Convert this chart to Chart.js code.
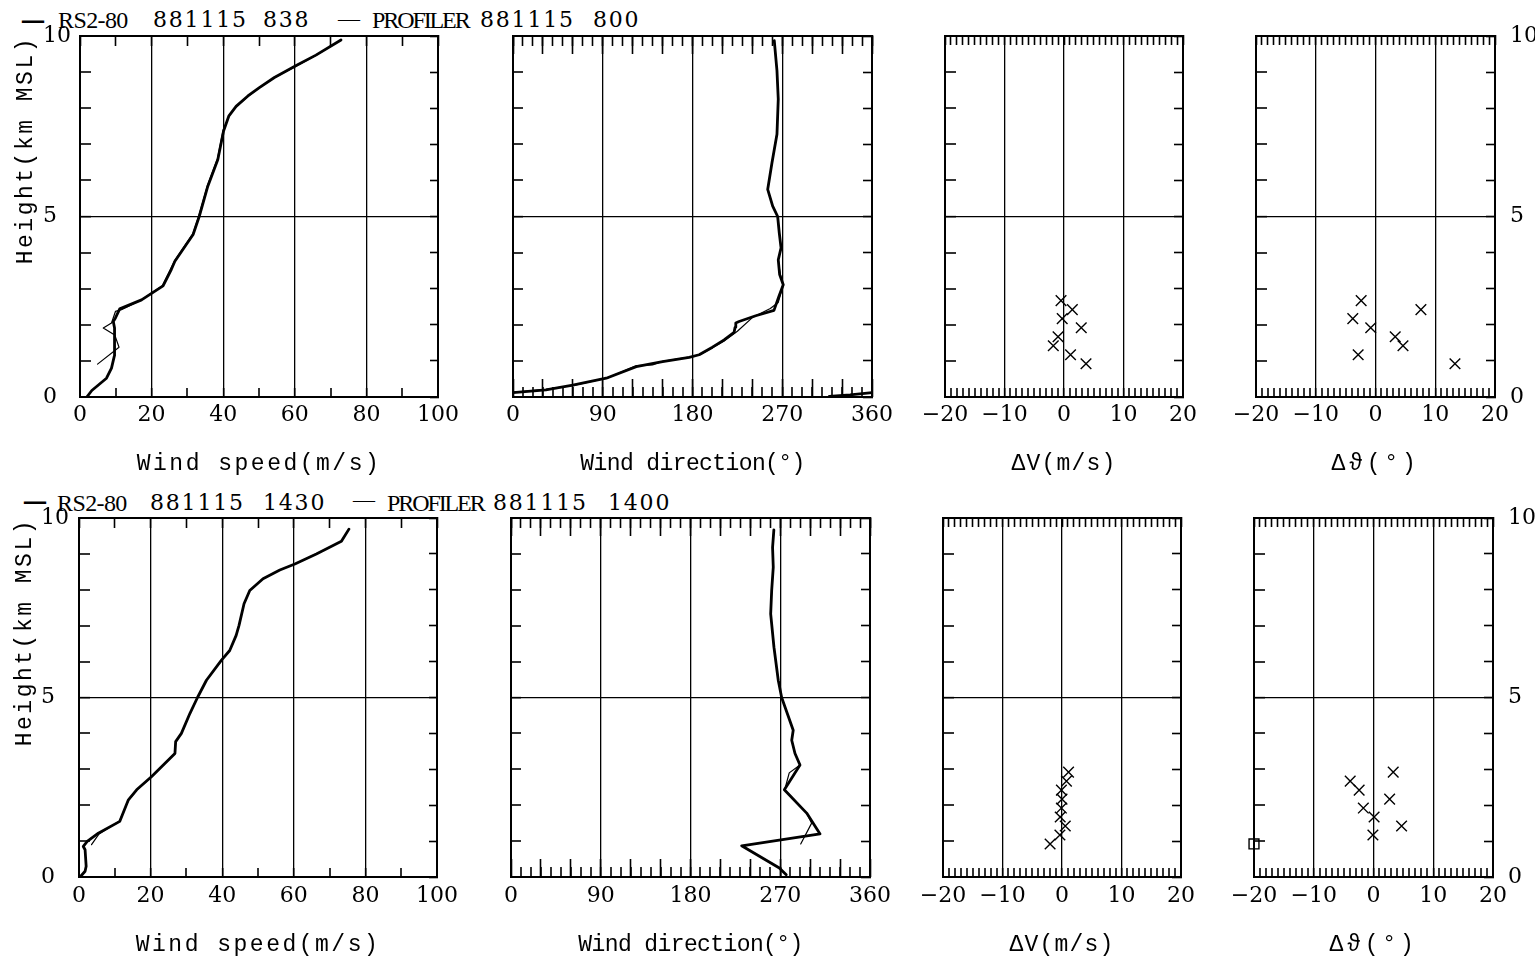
<!DOCTYPE html>
<html>
<head>
<meta charset="utf-8">
<title>Wind profiles RS2-80 vs PROFILER 881115</title>
<script src="https://cdn.jsdelivr.net/npm/chart.js@4.4.1/dist/chart.umd.min.js"></script>
<style>
  html, body { margin:0; padding:0; background:#fff; }
  body { width:1536px; height:959px; position:relative; overflow:hidden; }
  canvas { position:absolute; }
  .h { position:absolute; white-space:pre; color:#000; line-height:1; }
  .num { font-family:'DejaVu Serif', serif; font-size:22px; letter-spacing:1.8px; }
  .word { font-family:'Liberation Serif', serif; font-size:24px; }
  .dash { font-family:'Liberation Serif', serif; font-size:22px; }
  .thick { font-weight:bold; transform:scaleY(1.6); }
</style>
</head>
<body>
<div class="h dash thick" style="left:22px;top:7.5px">—</div>
<div class="h word" style="left:58px;top:8px;letter-spacing:-0.6px">RS2-80</div>
<div class="h num" style="left:153px;top:9.4px">881115</div>
<div class="h num" style="left:263px;top:9.4px">838</div>
<div class="h dash" style="left:338px;top:7.5px">—</div>
<div class="h word" style="left:372px;top:8px;letter-spacing:-2.1px">PROFILER</div>
<div class="h num" style="left:480px;top:9.4px">881115</div>
<div class="h num" style="left:593px;top:9.4px">800</div>

<div class="h dash thick" style="left:24px;top:489px">—</div>
<div class="h word" style="left:57px;top:490.5px;letter-spacing:-0.6px">RS2-80</div>
<div class="h num" style="left:150px;top:492px">881115</div>
<div class="h num" style="left:263px;top:492px">1430</div>
<div class="h dash" style="left:353px;top:489px">—</div>
<div class="h word" style="left:387px;top:490.5px;letter-spacing:-2.1px">PROFILER</div>
<div class="h num" style="left:493px;top:492px">881115</div>
<div class="h num" style="left:608px;top:492px">1400</div>

<script>
// ---------- tick labels / axis titles ----------
const speedTicks = [0, 20, 40, 60, 80, 100];
const dirTicks = [0, 90, 180, 270, 360];
const diffTicks = [-20, -10, 0, 10, 20];
const heightTicks = [0, 5, 10];
const speedGrid = [20, 40, 60, 80];
const dirGrid = [90, 180, 270];
const diffGrid = [-10, 0, 10];
const heightGrid = [5];
const titleSpeed = 'Wind speed(m/s)';
const titleDir = 'Wind direction(°)';
const titleDV = 'ΔV(m/s)';
const titleDTh = 'Δϑ(°)';
const titleHeight = 'Height(km MSL)';

// ---------- 881115 838 (RS2-80) / 800 (PROFILER) ----------
const topSpeedRsV = [1.9, 3.3, 7.4, 8.8, 9.6, 9.7, 9.6, 9.3, 9.9, 11.1, 17.2, 23.2, 25.5, 26.5, 31.6, 33.3, 35.7, 38.5, 40.1, 41.6, 43.6, 46.9, 50.1, 54.3, 60.4, 65.9, 72.9];
const topSpeedRsH = [0.0, 0.18, 0.52, 0.80, 1.14, 1.49, 1.91, 2.09, 2.19, 2.44, 2.69, 3.08, 3.53, 3.76, 4.50, 5.00, 5.84, 6.58, 7.37, 7.79, 8.05, 8.34, 8.57, 8.85, 9.18, 9.47, 9.89];
const topSpeedPrV = [4.9, 10.9, 9.7, 6.5, 8.8, 9.9, 11.6, 17.0, 23.0, 26.4, 31.5, 33.2, 35.6, 38.4, 40.0, 41.7, 43.7, 47.0, 50.2, 54.4, 60.5, 66.0, 72.8];
const topSpeedPrH = [0.91, 1.38, 1.72, 1.91, 2.05, 2.37, 2.42, 2.68, 3.08, 3.77, 4.52, 5.02, 5.86, 6.60, 7.40, 7.80, 8.05, 8.33, 8.57, 8.85, 9.17, 9.47, 9.88];

const topDirRsWrapV = [317, 338, 360];
const topDirRsWrapH = [0.02, 0.06, 0.12];
const topDirRsV = [0, 33, 60, 93.5, 123.6, 150, 176.7, 186.7, 200, 211.7, 221.7, 222.7, 223.4, 226.7, 243.4, 261.7, 266.7, 271, 267.4, 266, 268.8, 267, 265.4, 260.4, 255.4, 259.7, 264.7, 266, 264.7, 262];
const topDirRsH = [0.12, 0.20, 0.33, 0.52, 0.84, 0.98, 1.10, 1.17, 1.38, 1.58, 1.79, 1.93, 2.05, 2.09, 2.25, 2.40, 2.79, 3.11, 3.39, 3.80, 4.13, 4.55, 5.00, 5.29, 5.75, 6.49, 7.28, 8.25, 9.04, 9.87];
const topDirPrV = [0, 33, 62, 95, 124, 140, 150, 178, 188, 201, 212, 225, 240, 258, 266, 271, 268, 266, 269, 267, 265.4, 260.4, 255.5, 259.7, 264.7, 266, 264.7, 262];
const topDirPrH = [0.13, 0.21, 0.33, 0.53, 0.87, 0.89, 0.99, 1.11, 1.18, 1.38, 1.56, 1.82, 2.20, 2.45, 2.62, 3.10, 3.40, 3.80, 4.13, 4.55, 5.00, 5.30, 5.75, 6.50, 7.30, 8.25, 9.04, 9.87];

const topDiffH = [2.67, 2.42, 2.17, 1.92, 1.67, 1.42, 1.17, 0.92];
const topDvV = [-0.5, 1.4, -0.3, 2.9, -1.0, -1.8, 1.1, 3.7];
const topDthV = [-2.4, 7.6, -3.8, -0.8, 3.3, 4.6, -2.9, 13.3];

// ---------- 881115 1430 (RS2-80) / 1400 (PROFILER) ----------
const botSpeedRsV = [0.3, 1.7, 2.0, 1.7, 1.2, 2.3, 5.4, 11.4, 13.8, 16.1, 20.3, 26.8, 27.0, 28.6, 31.0, 33.1, 35.6, 39.8, 42.1, 43.9, 44.7, 46.1, 47.7, 51.4, 56.1, 60.3, 66.3, 73.3, 75.4];
const botSpeedRsH = [0.0, 0.16, 0.30, 0.76, 0.85, 0.99, 1.22, 1.55, 2.15, 2.43, 2.80, 3.44, 3.77, 4.00, 4.56, 5.00, 5.48, 6.04, 6.31, 6.73, 7.01, 7.61, 7.98, 8.31, 8.55, 8.72, 9.00, 9.35, 9.69];
const botSpeedPrV = [3.5, 5.6, 11.3, 13.9, 16.2, 20.4, 26.7, 27.0, 28.6, 31.0, 33.1, 35.6, 39.8, 42.1, 43.9, 44.7, 46.1, 47.7, 51.4, 56.1, 60.3, 66.3, 73.3, 75.4];
const botSpeedPrH = [0.90, 1.20, 1.56, 2.15, 2.43, 2.80, 3.44, 3.77, 4.00, 4.56, 5.00, 5.48, 6.04, 6.31, 6.73, 7.01, 7.61, 7.98, 8.31, 8.55, 8.72, 9.00, 9.35, 9.69];

const botDirRsV = [276, 269.1, 231.3, 309.9, 296.5, 274.1, 289.8, 284.8, 281.5, 283.0, 271.4, 268.0, 263.7, 260.4, 261.4, 263.0, 262.3, 263.6];
const botDirRsH = [0.06, 0.25, 0.87, 1.20, 1.78, 2.43, 3.12, 3.44, 3.81, 4.09, 5.00, 5.48, 6.40, 7.33, 7.98, 8.63, 9.18, 9.67];
const botDirPrV = [290.5, 301.5, 296.5, 274.5, 279.0, 289.8, 284.8, 281.5, 283.0, 271.4, 268.0, 263.7, 260.4, 261.4, 263.0, 262.3, 263.6];
const botDirPrH = [0.92, 1.50, 1.78, 2.43, 2.90, 3.12, 3.44, 3.81, 4.09, 5.00, 5.48, 6.40, 7.33, 7.98, 8.63, 9.18, 9.67];

const botDiffH = [2.92, 2.67, 2.42, 2.17, 1.92, 1.67, 1.42, 1.17, 0.92];
const botDvV = [1.1, 0.75, -0.1, 0.0, -0.1, -0.3, 0.55, -0.35, -2.0];
const botDthH = [2.92, 2.67, 2.42, 2.17, 1.92, 1.67, 1.42, 1.17];
const botDthV = [3.3, -3.9, -2.4, 2.7, -1.7, 0.1, 4.7, -0.1];
const botDthBoxH = [0.92];
const botDthBoxV = [-20];

// ---------- helpers ----------
Chart.defaults.font.family = 'DejaVu Serif';
Chart.defaults.color = '#000';

const tickFont = { family: 'DejaVu Serif', size: 22 };
const titleFont = { family: 'Liberation Mono', size: 23 };
const near = (a, b) => Math.abs(a - b) < 1e-6;
const fmt = v => (v < 0 ? '\u2212' + Math.abs(v) : String(v));
const pts = (xs, ys) => xs.map((v, i) => ({ x: v, y: ys[i] }));

function fixSize(dim, size) {
  return s => {
    s[dim] = size;
    s.paddingLeft = 0; s.paddingRight = 0; s.paddingTop = 0; s.paddingBottom = 0;
  };
}

function xBottom(o) {
  return {
    type: 'linear', axis: 'x', position: 'bottom', min: o.min, max: o.max, weight: 1,
    afterFit: fixSize('height', o.B),
    ticks: {
      stepSize: o.step, autoSkip: false, maxRotation: 0, minRotation: 0,
      padding: o.rowOff - o.tl, font: tickFont, color: '#000', z: 1,
      callback: v => (o.labels.some(l => near(l, v)) ? fmt(v) : '')
    },
    grid: {
      display: true, drawOnChartArea: true, drawTicks: true, tickLength: o.tl,
      color: '#000', tickColor: '#000', tickWidth: 1.6,
      lineWidth: c => (c.tick && o.lines.some(l => near(l, c.tick.value)) ? 1.3 : 0)
    },
    border: { display: true, color: '#000', width: 2 },
    title: { display: true, text: o.title, font: titleFont, color: '#000', padding: { top: 0, bottom: 0 } }
  };
}

function xTicksOnly(pos, min, max, step, tl, weight, border) {
  return {
    type: 'linear', axis: 'x', position: pos, min: min, max: max, weight: weight,
    afterFit: fixSize('height', 0),
    ticks: { display: false, stepSize: step, autoSkip: false, maxRotation: 0, minRotation: 0 },
    grid: { display: true, drawOnChartArea: false, drawTicks: true, tickLength: tl, color: '#000', tickColor: '#000', tickWidth: 1.6 },
    border: { display: border, color: '#000', width: 2 },
    title: { display: false }
  };
}

function yLeft(o) {
  return {
    type: 'linear', axis: 'y', position: 'left', min: 0, max: 10,
    afterFit: fixSize('width', o.yw),
    ticks: {
      display: !!o.labels, stepSize: 1, autoSkip: false, crossAlign: 'far', padding: 0,
      font: tickFont, color: '#000', z: 1,
      callback: v => (heightTicks.some(l => near(l, v)) ? fmt(v) : '')
    },
    grid: {
      display: true, drawOnChartArea: true, drawTicks: true, tickLength: o.tl,
      color: '#000', tickColor: '#000', tickWidth: 1.6,
      lineWidth: c => (c.tick && heightGrid.some(l => near(l, c.tick.value)) ? 1.3 : 0)
    },
    border: { display: true, color: '#000', width: 2 },
    title: o.title
      ? { display: true, text: o.title, align: 'end', font: titleFont, color: '#000', padding: { top: o.titlePad, bottom: 0 } }
      : { display: false }
  };
}

function yRight(o) {
  return {
    type: 'linear', axis: 'y', position: 'right', min: 0, max: 10,
    afterFit: fixSize('width', o.rw),
    ticks: {
      display: !!o.labels, stepSize: 1, autoSkip: false, crossAlign: 'near', padding: o.pad || 0,
      font: tickFont, color: '#000', z: 1,
      callback: v => (heightTicks.some(l => near(l, v)) ? fmt(v) : '')
    },
    grid: { display: true, drawOnChartArea: false, drawTicks: true, tickLength: o.tl, color: '#000', tickColor: '#000', tickWidth: 1.6 },
    border: { display: true, color: '#000', width: 2 },
    title: { display: false }
  };
}

function lineDs(xs, ys, w) {
  return { data: pts(xs, ys), showLine: true, borderColor: '#000', borderWidth: w,
           pointRadius: 0, pointHoverRadius: 0, fill: false, tension: 0,
           borderJoinStyle: 'round', borderCapStyle: 'round' };
}
function crossDs(xs, ys) {
  return { data: pts(xs, ys), showLine: false, pointStyle: 'crossRot', pointRadius: 7.5,
           borderColor: '#000', backgroundColor: '#000', borderWidth: 1.4 };
}
function boxDs(xs, ys) {
  return { data: pts(xs, ys), showLine: false, pointStyle: 'rect', pointRadius: 7,
           borderColor: '#000', backgroundColor: 'rgba(0,0,0,0)', borderWidth: 1.4, clip: false };
}

function spacing(px) {
  return {
    id: 'titleSpacing',
    beforeDraw(chart) { chart.ctx.letterSpacing = px + 'px'; },
    beforeDatasetsDraw(chart) { chart.ctx.letterSpacing = '0px'; },
    afterDraw(chart) { chart.ctx.letterSpacing = '0px'; }
  };
}

function panel(p) {
  const c = document.createElement('canvas');
  const w = (p.r - p.l) + p.padL + p.yw + p.padR + p.rw;
  const h = (p.b - p.t) + p.T + p.B;
  c.width = w; c.height = h;
  c.style.left = (p.l - p.padL - p.yw) + 'px';
  c.style.top = (p.t - p.T) + 'px';
  c.style.width = w + 'px'; c.style.height = h + 'px';
  document.body.appendChild(c);
  new Chart(c, {
    type: 'scatter',
    data: { datasets: p.datasets },
    options: {
      responsive: false, animation: false, events: [],
      layout: { autoPadding: false, padding: { left: p.padL, right: p.padR, top: p.T, bottom: 0 } },
      plugins: { legend: { display: false }, tooltip: { enabled: false } },
      scales: p.scales
    },
    plugins: [spacing(p.spacing)]
  });
}

const rows = [
  { t: 36, b: 397, T: 18, B: 81, off: 5, lab: 43, tpad: -31.3,
    p1: [80, 438], p2: [513, 872], p3: [945, 1183], p4: [1256, 1495],
    speed: [lineDs(topSpeedRsV, topSpeedRsH, 2.8), lineDs(topSpeedPrV, topSpeedPrH, 1.2)],
    dir: [lineDs(topDirRsWrapV, topDirRsWrapH, 2.8), lineDs(topDirRsV, topDirRsH, 2.8), lineDs(topDirPrV, topDirPrH, 1.2)],
    dv: [crossDs(topDvV, topDiffH)],
    dth: [crossDs(topDthV, topDiffH)] },
  { t: 518, b: 877, T: 18, B: 82, off: 6, lab: 41, tpad: -30.3,
    p1: [79, 437], p2: [511, 870], p3: [943, 1181], p4: [1254, 1493],
    speed: [lineDs(botSpeedRsV, botSpeedRsH, 2.8), lineDs(botSpeedPrV, botSpeedPrH, 1.2)],
    dir: [lineDs(botDirRsV, botDirRsH, 2.8), lineDs(botDirPrV, botDirPrH, 1.2)],
    dv: [crossDs(botDvV, botDiffH)],
    dth: [crossDs(botDthV, botDthH), boxDs(botDthBoxV, botDthBoxH)] }
];

rows.forEach(R => {
  // Wind speed
  panel({
    l: R.p1[0], r: R.p1[1], t: R.t, b: R.b, T: R.T, B: R.B,
    padL: R.lab, yw: R.p1[0] - R.lab, padR: 28, rw: 0, spacing: 2.5,
    datasets: R.speed,
    scales: {
      x: xBottom({ min: 0, max: 100, step: 10, labels: speedTicks, lines: speedGrid, tl: -9, rowOff: R.off, title: titleSpeed, B: R.B }),
      xt: xTicksOnly('top', 0, 100, 10, -10, 1, true),
      y: yLeft({ yw: R.p1[0] - R.lab, labels: true, tl: -11, title: titleHeight, titlePad: R.tpad }),
      yr: yRight({ rw: 0, labels: false, tl: -8 })
    }
  });
  // Wind direction
  panel({
    l: R.p2[0], r: R.p2[1], t: R.t, b: R.b, T: R.T, B: R.B,
    padL: 18, yw: 0, padR: 26, rw: 0, spacing: -0.6,
    datasets: R.dir,
    scales: {
      x: xBottom({ min: 0, max: 360, step: 10, labels: dirTicks, lines: dirGrid, tl: -10, rowOff: R.off, title: titleDir, B: R.B }),
      xb2: xTicksOnly('bottom', 0, 360, 30, -18, 0, false),
      xt: xTicksOnly('top', 0, 360, 10, -10, 1, true),
      xt2: xTicksOnly('top', 0, 360, 30, -18, 0, false),
      y: yLeft({ yw: 0, labels: false, tl: -10 }),
      yr: yRight({ rw: 0, labels: false, tl: -9 })
    }
  });
  // Delta V
  panel({
    l: R.p3[0], r: R.p3[1], t: R.t, b: R.b, T: R.T, B: R.B,
    padL: 22, yw: 0, padR: 22, rw: 0, spacing: 1.2,
    datasets: R.dv,
    scales: {
      x: xBottom({ min: -20, max: 20, step: 1, labels: diffTicks, lines: diffGrid, tl: -9, rowOff: R.off, title: titleDV, B: R.B }),
      xt: xTicksOnly('top', -20, 20, 1, -9, 1, true),
      y: yLeft({ yw: 0, labels: false, tl: -11 }),
      yr: yRight({ rw: 0, labels: false, tl: -9 })
    }
  });
  // Delta theta
  const rw = 1536 - R.p4[1] - 1;
  panel({
    l: R.p4[0], r: R.p4[1], t: R.t, b: R.b, T: R.T, B: R.B,
    padL: 22, yw: 0, padR: 0, rw: rw, spacing: 3.8,
    datasets: R.dth,
    scales: {
      x: xBottom({ min: -20, max: 20, step: 1, labels: diffTicks, lines: diffGrid, tl: -9, rowOff: R.off, title: titleDTh, B: R.B }),
      xt: xTicksOnly('top', -20, 20, 1, -9, 1, true),
      y: yLeft({ yw: 0, labels: false, tl: -11 }),
      yr: yRight({ rw: rw, labels: true, tl: -9, pad: 24 })
    }
  });
});
</script>
</body>
</html>
